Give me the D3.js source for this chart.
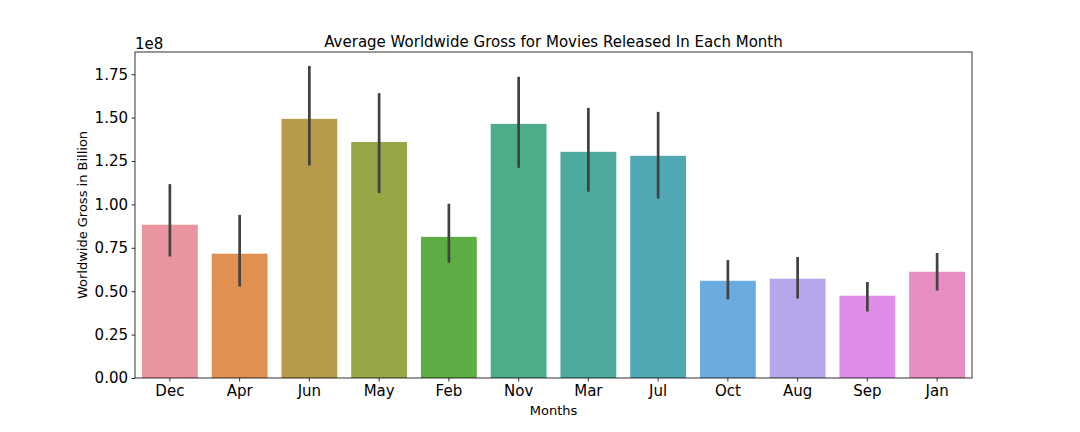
<!DOCTYPE html>
<html>
<head>
<meta charset="utf-8">
<script src="https://cdn.jsdelivr.net/npm/d3@7"></script>
<style>
  body { margin: 0; background: #fff; }
  svg text { font-family: "DejaVu Sans", sans-serif; fill: #000; }
</style>
</head>
<body>
<div id="chart"></div>
<script>
// data (values in units of 1e8)
var months = ["Dec", "Apr", "Jun", "May", "Feb", "Nov", "Mar", "Jul", "Oct", "Aug", "Sep", "Jan"];
var meanGross = [0.883, 0.716, 1.493, 1.360, 0.813, 1.464, 1.303, 1.280, 0.560, 0.572, 0.474, 0.612];
var ciLow = [0.700, 0.527, 1.224, 1.065, 0.664, 1.211, 1.073, 1.033, 0.453, 0.458, 0.383, 0.504];
var ciHigh = [1.117, 0.940, 1.798, 1.641, 1.004, 1.735, 1.556, 1.533, 0.679, 0.697, 0.553, 0.720];
var yTicks = [0, 0.25, 0.5, 0.75, 1.0, 1.25, 1.5, 1.75];
var barColors = ["#e8959f", "#e09152", "#b89b4a", "#98a648", "#5ead44", "#4cad88", "#4faa9e", "#50a8b4",
                 "#6aabe0", "#b6a6ea", "#dd8ce8", "#e68dc3"];

// set the dimensions and margins of the graph
var margin = { top: 52, right: 108, bottom: 54, left: 135 },
    width = 1080 - margin.left - margin.right,
    height = 432 - margin.top - margin.bottom;

var svg = d3.select("#chart")
    .append("svg")
    .attr("width", 1080)
    .attr("height", 432)
    .append("g")
    .attr("transform", "translate(" + margin.left + "," + margin.top + ")");

// X scale
var x = d3.scaleBand()
    .domain(months)
    .range([0, width])
    .paddingInner(0.2)
    .paddingOuter(0.1);

// Y scale
var y = d3.scaleLinear()
    .domain([0, 1.878])
    .range([height, 0]);

// bars
svg.selectAll(".bar")
    .data(months)
    .enter()
    .append("rect")
    .attr("class", "bar")
    .attr("x", function (d) { return x(d); })
    .attr("width", x.bandwidth())
    .attr("y", function (d, i) { return y(meanGross[i]); })
    .attr("height", function (d, i) { return height - y(meanGross[i]); })
    .attr("fill", function (d, i) { return barColors[i]; });

// error bars
svg.selectAll(".err")
    .data(months)
    .enter()
    .append("line")
    .attr("class", "err")
    .attr("x1", function (d) { return x(d) + x.bandwidth() / 2; })
    .attr("x2", function (d) { return x(d) + x.bandwidth() / 2; })
    .attr("y1", function (d, i) { return y(ciLow[i]); })
    .attr("y2", function (d, i) { return y(ciHigh[i]); })
    .attr("stroke", "#424242")
    .attr("stroke-width", 2.7);

// X axis
var xAxis = svg.append("g")
    .attr("transform", "translate(0," + height + ")")
    .call(d3.axisBottom(x).tickSizeOuter(0).tickSize(3.5).tickPadding(3.5));

// Y axis
var yAxis = svg.append("g")
    .call(d3.axisLeft(y).tickValues(yTicks).tickFormat(d3.format(".2f")).tickSizeOuter(0).tickSize(3.5).tickPadding(3.5));

[xAxis, yAxis].forEach(function (ax) {
    ax.select(".domain").remove();
    ax.selectAll("line").attr("stroke", "#000").attr("stroke-width", 0.8);
    ax.selectAll("text").style("font-size", "15px").style("font-family", "DejaVu Sans");
});

// frame
svg.append("rect")
    .attr("width", width)
    .attr("height", height)
    .attr("fill", "none")
    .attr("stroke", "#000")
    .attr("stroke-width", 0.8);

// offset label
svg.append("text")
    .attr("x", 0)
    .attr("y", -3)
    .style("font-size", "15px")
    .text("1e8");

// title
svg.append("text")
    .attr("x", width / 2)
    .attr("y", -5)
    .attr("text-anchor", "middle")
    .style("font-size", "15px")
    .text("Average Worldwide Gross for Movies Released In Each Month");

// X axis title
svg.append("text")
    .attr("x", width / 2)
    .attr("y", height + 37)
    .attr("text-anchor", "middle")
    .style("font-size", "13px")
    .text("Months");

// Y axis title
svg.append("text")
    .attr("transform", "rotate(-90)")
    .attr("x", -height / 2)
    .attr("y", -48)
    .attr("text-anchor", "middle")
    .style("font-size", "13px")
    .text("Worldwide Gross in Billion");
</script>
</body>
</html>
